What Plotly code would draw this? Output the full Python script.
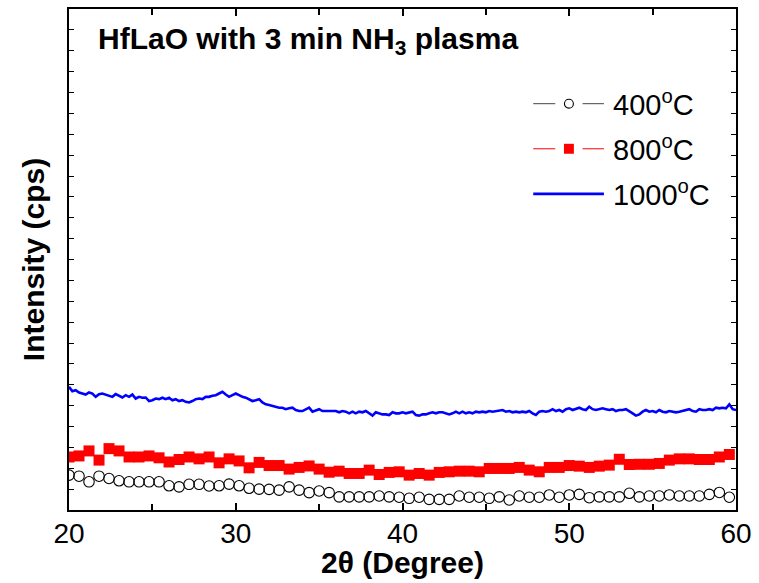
import numpy as np
import plotly.graph_objects as go

# 2-theta scan grids (degrees)
theta_coarse = np.round(20.0 + 0.6 * np.arange(67), 2)
theta_fine = np.round(20.0 + 0.2 * np.arange(201), 2)

# Intensity (arbitrary offset units) for each anneal temperature
int_400 = [1.67, 1.62, 1.35, 1.62, 1.51, 1.40, 1.35, 1.35, 1.35, 1.35,
           1.16, 1.11, 1.23, 1.23, 1.15, 1.16, 1.24, 1.16, 1.04, 1.00,
           0.99, 0.95, 1.11, 0.95, 0.83, 0.91, 0.83, 0.63, 0.63, 0.63,
           0.63, 0.67, 0.63, 0.61, 0.56, 0.61, 0.51, 0.51, 0.51, 0.67,
           0.61, 0.61, 0.56, 0.63, 0.48, 0.67, 0.61, 0.61, 0.72, 0.61,
           0.72, 0.75, 0.59, 0.63, 0.63, 0.63, 0.80, 0.63, 0.67, 0.67,
           0.72, 0.67, 0.67, 0.67, 0.75, 0.84, 0.61]

int_800 = [2.54, 2.59, 2.83, 2.39, 2.94, 2.83, 2.54, 2.54, 2.59, 2.50,
           2.30, 2.42, 2.54, 2.45, 2.54, 2.26, 2.45, 2.35, 2.02, 2.28,
           2.13, 2.13, 1.96, 2.04, 2.11, 1.96, 1.81, 1.86, 1.75, 1.75,
           1.91, 1.70, 1.80, 1.83, 1.67, 1.75, 1.67, 1.80, 1.83, 1.86,
           1.86, 1.83, 1.99, 1.99, 1.99, 2.04, 1.91, 1.83, 2.04, 2.04,
           2.13, 2.10, 2.04, 2.10, 2.15, 2.43, 2.18, 2.19, 2.19, 2.23,
           2.39, 2.45, 2.45, 2.42, 2.42, 2.54, 2.66]

int_1000 = [5.90, 5.69, 5.74, 5.63, 5.58, 5.53, 5.63, 5.58, 5.42, 5.55,
            5.58, 5.53, 5.47, 5.42, 5.55, 5.47, 5.39, 5.50, 5.42, 5.53,
            5.34, 5.42, 5.38, 5.39, 5.22, 5.26, 5.34, 5.31, 5.38, 5.31,
            5.38, 5.26, 5.31, 5.22,
            5.26, 5.18, 5.15, 5.22, 5.31, 5.34, 5.31, 5.42, 5.42, 5.47,
            5.50, 5.58, 5.66, 5.53, 5.42, 5.50, 5.58, 5.50, 5.42, 5.38,
            5.31, 5.22, 5.26, 5.31, 5.15, 5.06, 5.03, 4.99, 4.95, 4.90,
            4.90, 4.83, 4.87, 4.90,
            4.79, 4.74, 4.74, 4.83, 4.90, 4.71, 4.79, 4.83, 4.74, 4.74,
            4.71, 4.71, 4.74, 4.68, 4.74, 4.71, 4.63, 4.71, 4.63, 4.71,
            4.68, 4.74, 4.63, 4.52, 4.68, 4.63, 4.58, 4.58, 4.55, 4.68,
            4.63, 4.63, 4.68,
            4.63, 4.68, 4.71, 4.55, 4.52, 4.58, 4.58, 4.63, 4.68, 4.63,
            4.68, 4.68, 4.63, 4.58, 4.63, 4.71, 4.63, 4.71, 4.63, 4.68,
            4.63, 4.71, 4.68, 4.71, 4.68, 4.74, 4.71, 4.74, 4.74, 4.79,
            4.71, 4.74, 4.68,
            4.71, 4.68, 4.71, 4.68, 4.74, 4.63, 4.55, 4.71, 4.74, 4.71,
            4.74, 4.83, 4.74, 4.79, 4.71, 4.83, 4.87, 4.79, 4.83, 4.90,
            4.83, 4.79, 4.95, 4.83, 4.79, 4.83, 4.87, 4.83, 4.79, 4.83,
            4.74, 4.79, 4.79, 4.83,
            4.71, 4.63, 4.52, 4.58, 4.71, 4.79, 4.71, 4.74, 4.68, 4.79,
            4.71, 4.68, 4.74, 4.71, 4.68, 4.71, 4.74, 4.79, 4.83, 4.74,
            4.71, 4.83, 4.79, 4.79, 4.83, 4.79, 4.90, 4.87, 4.90, 4.87,
            5.06, 4.83, 4.79]

legend_labels = ["400<sup>o</sup>C", "800<sup>o</sup>C", "1000<sup>o</sup>C"]
title_text = "<b>HfLaO with 3 min NH<sub>3</sub> plasma</b>"
x_title = "<b>2\u03b8 (Degree)</b>"
y_title = "<b>Intensity (cps)</b>"

FONT = "Arial, Liberation Sans, sans-serif"

fig = go.Figure()
fig.add_trace(go.Scatter(x=theta_fine, y=int_1000, mode="lines",
                         line=dict(color="#0000FF", width=2.6), showlegend=False))
fig.add_trace(go.Scatter(x=theta_coarse, y=int_800, mode="markers",
                         marker=dict(symbol="square", size=11, color="#FF0000",
                                     line=dict(width=0)), showlegend=False))
fig.add_trace(go.Scatter(x=theta_coarse, y=int_400, mode="markers",
                         marker=dict(symbol="circle-open", size=10.5, color="black",
                                     line=dict(width=1.1, color="black")),
                         showlegend=False))

# hand-built legend in the upper right
shapes = []
annotations = []
rows_y = [0.811, 0.721, 0.631]
x_l0, x_l1, x_r0, x_r1 = 0.696, 0.729, 0.770, 0.802
for i, yy in enumerate(rows_y):
    if i == 2:
        shapes.append(dict(type="line", xref="paper", yref="paper",
                           x0=x_l0, x1=x_r1, y0=yy, y1=yy,
                           line=dict(color="#0000FF", width=2.6)))
    else:
        col = "#444444" if i == 0 else "#FF0000"
        for a, b in ((x_l0, x_l1), (x_r0, x_r1)):
            shapes.append(dict(type="line", xref="paper", yref="paper",
                               x0=a, x1=b, y0=yy, y1=yy,
                               line=dict(color=col, width=1)))
    annotations.append(dict(xref="paper", yref="paper", x=0.812, y=yy + 0.002,
                            xanchor="left", yanchor="middle", showarrow=False,
                            text=legend_labels[i],
                            font=dict(family=FONT, size=29, color="black")))

# legend glyphs: open circle and filled square centred between the line stubs
cx = 0.7495
dx = 4.5 / 671.0
dy = 4.5 / 503.0
shapes.append(dict(type="circle", xref="paper", yref="paper",
                   x0=cx - dx, x1=cx + dx, y0=rows_y[0] - dy, y1=rows_y[0] + dy,
                   line=dict(color="black", width=1.1), fillcolor="white"))
sx = 5.0 / 671.0
sy = 5.0 / 503.0
shapes.append(dict(type="rect", xref="paper", yref="paper",
                   x0=cx - sx, x1=cx + sx, y0=rows_y[1] - sy, y1=rows_y[1] + sy,
                   line=dict(width=0), fillcolor="#FF0000"))

annotations.append(dict(xref="paper", yref="paper", x=0.040, y=0.937,
                        xanchor="left", yanchor="middle", showarrow=False,
                        text=title_text,
                        font=dict(family=FONT, size=30, color="black")))

# x-axis title placed just under the tick labels
annotations.append(dict(xref="paper", yref="paper", x=0.5, y=-0.104,
                        xanchor="center", yanchor="middle", showarrow=False,
                        text=x_title,
                        font=dict(family=FONT, size=30, color="black")))

fig.update_layout(
    width=759, height=583,
    margin=dict(l=69, r=19, t=7, b=73),
    paper_bgcolor="white", plot_bgcolor="white",
    font=dict(family=FONT, color="black"),
    shapes=shapes, annotations=annotations,
    xaxis=dict(range=[20, 60], dtick=10, tick0=20,
               ticks="inside", ticklen=7, tickwidth=1.5, tickcolor="black",
               ticklabelstandoff=-3,
               minor=dict(dtick=5, ticks="inside", ticklen=6, tickwidth=1.5,
                          tickcolor="black"),
               showline=True, linewidth=2, linecolor="black", mirror="allticks",
               showgrid=False, zeroline=False,
               tickfont=dict(family=FONT, size=28, color="black")),
    yaxis=dict(range=[0, 24], dtick=1, tick0=0,
               ticks="inside", ticklen=5, tickwidth=1.2, tickcolor="black",
               showticklabels=False,
               showline=True, linewidth=2, linecolor="black", mirror="allticks",
               showgrid=False, zeroline=False,
               title=dict(text=y_title, standoff=14,
                          font=dict(family=FONT, size=30, color="black"))),
)

fig.write_html("out.html")
